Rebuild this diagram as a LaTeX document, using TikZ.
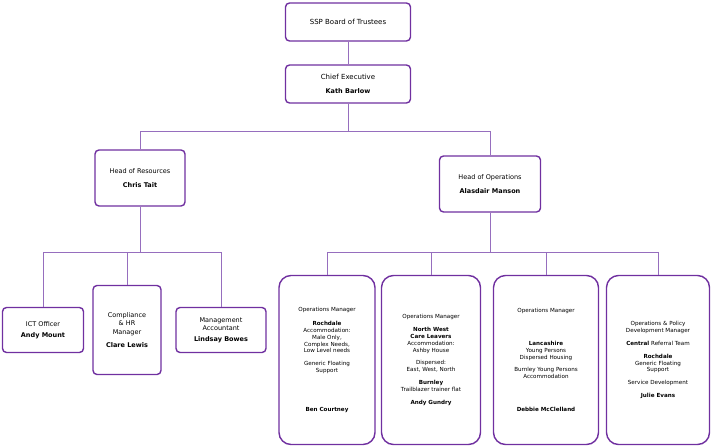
\documentclass[tikz,border=0pt]{standalone}
\usepackage{fontspec}
\setmainfont{DejaVu Sans}
\usetikzlibrary{positioning}
\definecolor{boxpurple}{RGB}{112,48,160}
\definecolor{linepurple}{RGB}{150,110,190}
\tikzstyle{post} = [rectangle, rounded corners=4pt, draw=boxpurple, line width=1.4pt, fill=white, align=center, inner sep=1pt, font=\fontsize{7}{8.5}\selectfont]
\tikzstyle{team} = [post, rounded corners=12pt, font=\fontsize{5.6}{6.9}\selectfont]
\tikzstyle{link} = [draw=linepurple, line width=0.6pt]

\begin{document}
\begin{tikzpicture}[x=1pt,y=-1pt]
\useasboundingbox (0,0) rectangle (711,447);
\node (board) [post, minimum width=125pt, minimum height=38pt] at (348,22) {SSP Board of Trustees};
\node (chief) [post, minimum width=125pt, minimum height=38pt] at (348,84) {Chief Executive\\[5pt]\textbf{\fontsize{6.5}{8}\selectfont Kath Barlow}};
\node (resources) [post, minimum width=90pt, minimum height=56pt] at (140,178) {\fontsize{6.5}{8}\selectfont Head of Resources\\[5pt]\textbf{\fontsize{6.5}{8}\selectfont Chris Tait}};
\node (operations) [post, minimum width=101pt, minimum height=56pt] at (490,184) {\fontsize{6.5}{8}\selectfont Head of Operations\\[5pt]\textbf{\fontsize{6.5}{8}\selectfont Alasdair Manson}};
\node (ict) [post, minimum width=81pt, minimum height=45pt] at (43,330) {\fontsize{6.5}{8}\selectfont ICT Officer\\[2pt]\textbf{\fontsize{6.5}{8}\selectfont Andy Mount}};
\node (compliance) [post, minimum width=68pt, minimum height=89pt] at (127,330) {\fontsize{6.5}{8}\selectfont Compliance\\\fontsize{6.5}{8}\selectfont \& HR\\\fontsize{6.5}{8}\selectfont Manager\\[5pt]\textbf{\fontsize{6.5}{8}\selectfont Clare Lewis}};
\node (accounts) [post, minimum width=90pt, minimum height=45pt] at (221,330) {\fontsize{6.5}{8}\selectfont Management\\\fontsize{6.5}{8}\selectfont Accountant\\[2pt]\textbf{\fontsize{6.5}{8}\selectfont Lindsay Bowes}};
\node (rochdale) [team, minimum width=96pt, minimum height=169pt] at (327,360) {Operations Manager\\[7pt]\textbf{Rochdale}\\Accommodation:\\Male Only,\\Complex Needs,\\Low Level needs\\[6pt]Generic Floating\\Support\\[32pt]\textbf{Ben Courtney}};
\node (northwest) [team, minimum width=99pt, minimum height=169pt] at (431,360) {Operations Manager\\[6pt]\textbf{North West}\\\textbf{Care Leavers}\\Accommodation:\\Ashby House\\[6pt]Dispersed:\\East, West, North\\[6pt]\textbf{Burnley}\\Trailblazer trainer flat\\[6pt]\textbf{Andy Gundry}};
\node (lancashire) [team, minimum width=105pt, minimum height=169pt] at (546,360) {Operations Manager\\[26pt]\textbf{Lancashire}\\Young Persons\\Dispersed Housing\\[6pt]Burnley Young Persons\\Accommodation\\[26pt]\textbf{Debbie McClelland}};
\node (policy) [team, minimum width=103pt, minimum height=169pt] at (658,360) {Operations \& Policy\\Development Manager\\[6pt]\textbf{Central} Referral Team\\[6pt]\textbf{Rochdale}\\Generic Floating\\Support\\[6pt]Service Development\\[6pt]\textbf{Julie Evans}};

\draw [link] (board) -- (chief);
\draw [link] (chief.south) -- ++(0,28) coordinate (split);
\draw [link] (resources.north) |- (split) -| (operations.north);
\draw [link] (resources.south) -- ++(0,46) coordinate (rsplit);
\draw [link] (ict.north) |- (rsplit) -| (accounts.north);
\draw [link] (compliance.north) -- (compliance.north |- rsplit);
\draw [link] (operations.south) -- ++(0,40) coordinate (osplit);
\draw [link] (rochdale.north) |- (osplit) -| (policy.north);
\draw [link] (northwest.north) -- (northwest.north |- osplit);
\draw [link] (lancashire.north) -- (lancashire.north |- osplit);
\end{tikzpicture}
\end{document}
